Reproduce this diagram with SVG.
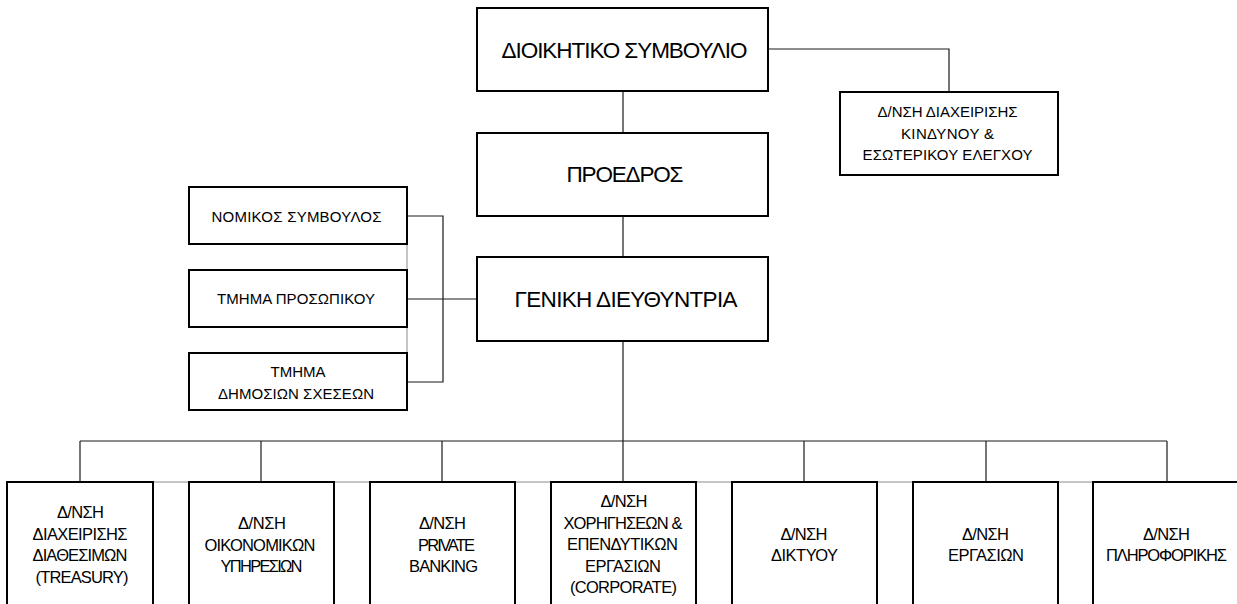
<svg xmlns="http://www.w3.org/2000/svg" width="1237" height="604" viewBox="0 0 1237 604">
<style>
.box{fill:#fff;stroke:#000;stroke-width:2}
.con{fill:none;stroke:#1a1a1a;stroke-width:1.2}
.ghost{fill:none;stroke:#8c8c8c;stroke-width:1}
text{font-family:"Liberation Sans",Arial,sans-serif;fill:#000;text-anchor:middle}
.big{font-size:22.5px}
.sm{font-size:15px}
.bt{font-size:16.5px}
</style>
<rect width="1237" height="604" fill="#fff"/>
<g id="ghost-lines">
<line class="ghost" x1="407" y1="187" x2="407" y2="410"/>
<line class="ghost" x1="7" y1="482" x2="1237" y2="482"/>
</g>
<g id="connectors">
<line class="con" x1="623" y1="91" x2="623" y2="133"/>
<polyline class="con" points="768,49 949,49 949,92"/>
<line class="con" x1="623" y1="216" x2="623" y2="257"/>
<polyline class="con" points="407,216 443,216 443,382 407,382"/>
<line class="con" x1="407" y1="299" x2="477" y2="299"/>
<line class="con" x1="623" y1="341" x2="623" y2="482"/>
<line class="con" x1="80" y1="441" x2="1167" y2="441"/>
<line class="con" x1="80" y1="441" x2="80" y2="482"/>
<line class="con" x1="261" y1="441" x2="261" y2="482"/>
<line class="con" x1="442" y1="441" x2="442" y2="482"/>
<line class="con" x1="804" y1="441" x2="804" y2="482"/>
<line class="con" x1="986" y1="441" x2="986" y2="482"/>
<line class="con" x1="1167" y1="441" x2="1167" y2="482"/>
</g>
<g id="board">
<rect class="box" x="477" y="8" width="291" height="83"/>
<text class="big" x="624.5" y="57.5" textLength="246" lengthAdjust="spacing">ΔΙΟΙΚΗΤΙΚΟ ΣΥΜΒΟΥΛΙΟ</text>
</g>
<g id="risk">
<rect class="box" x="840" y="92" width="218" height="83"/>
<text class="sm" x="947.5" y="117" textLength="140" lengthAdjust="spacing">Δ/ΝΣΗ ΔΙΑΧΕΙΡΙΣΗΣ</text>
<text class="sm" x="947.5" y="138.5" textLength="93" lengthAdjust="spacing">ΚΙΝΔΥΝΟΥ &amp;</text>
<text class="sm" x="947.5" y="160" textLength="170" lengthAdjust="spacing">ΕΣΩΤΕΡΙΚΟΥ ΕΛΕΓΧΟΥ</text>
</g>
<g id="president">
<rect class="box" x="477" y="133" width="291" height="83"/>
<text class="big" x="625" y="181.5" textLength="117" lengthAdjust="spacing">ΠΡΟΕΔΡΟΣ</text>
</g>
<g id="general">
<rect class="box" x="477" y="257" width="291" height="84"/>
<text class="big" x="626" y="307" textLength="223" lengthAdjust="spacing">ΓΕΝΙΚΗ ΔΙΕΥΘΥΝΤΡΙΑ</text>
</g>
<g id="legal">
<rect class="box" x="189" y="187" width="218" height="57"/>
<text class="sm" x="296.5" y="221.5" textLength="170" lengthAdjust="spacing">ΝΟΜΙΚΟΣ ΣΥΜΒΟΥΛΟΣ</text>
</g>
<g id="personnel">
<rect class="box" x="189" y="270" width="218" height="57"/>
<text class="sm" x="296" y="304" textLength="158" lengthAdjust="spacing">ΤΜΗΜΑ ΠΡΟΣΩΠΙΚΟΥ</text>
</g>
<g id="pr">
<rect class="box" x="189" y="353" width="218" height="57"/>
<text class="sm" x="298" y="377" textLength="55" lengthAdjust="spacing">ΤΜΗΜΑ</text>
<text class="sm" x="296" y="399" textLength="156" lengthAdjust="spacing">ΔΗΜΟΣΙΩΝ ΣΧΕΣΕΩΝ</text>
</g>
<g id="treasury">
<rect class="box" x="7" y="482" width="146" height="140"/>
<text class="bt" x="80.5" y="518" textLength="47" lengthAdjust="spacing">Δ/ΝΣΗ</text>
<text class="bt" x="80" y="539.5" textLength="95" lengthAdjust="spacing">ΔΙΑΧΕΙΡΙΣΗΣ</text>
<text class="bt" x="80" y="561" textLength="95" lengthAdjust="spacing">ΔΙΑΘΕΣΙΜΩΝ</text>
<text class="bt" x="82" y="582.5" textLength="93" lengthAdjust="spacing">(TREASURY)</text>
</g>
<g id="finance">
<rect class="box" x="189" y="482" width="145" height="140"/>
<text class="bt" x="262" y="529" textLength="48" lengthAdjust="spacing">Δ/ΝΣΗ</text>
<text class="bt" x="260" y="550.5" textLength="111" lengthAdjust="spacing">ΟΙΚΟΝΟΜΙΚΩΝ</text>
<text class="bt" x="261.5" y="572" textLength="82" lengthAdjust="spacing">ΥΠΗΡΕΣΙΩΝ</text>
</g>
<g id="private">
<rect class="box" x="370" y="482" width="145" height="140"/>
<text class="bt" x="442.5" y="529" textLength="47" lengthAdjust="spacing">Δ/ΝΣΗ</text>
<text class="bt" x="446.5" y="550.5" textLength="57" lengthAdjust="spacing">PRIVATE</text>
<text class="bt" x="443.5" y="572" textLength="69" lengthAdjust="spacing">BANKING</text>
</g>
<g id="corporate">
<rect class="box" x="551" y="482" width="145" height="140"/>
<text class="bt" x="624" y="507" textLength="47" lengthAdjust="spacing">Δ/ΝΣΗ</text>
<text class="bt" x="623" y="528.5" textLength="119" lengthAdjust="spacing">ΧΟΡΗΓΗΣΕΩΝ &amp;</text>
<text class="bt" x="622.5" y="550" textLength="111" lengthAdjust="spacing">ΕΠΕΝΔΥΤΙΚΩΝ</text>
<text class="bt" x="623" y="571.5" textLength="76" lengthAdjust="spacing">ΕΡΓΑΣΙΩΝ</text>
<text class="bt" x="623.5" y="593" textLength="107" lengthAdjust="spacing">(CORPORATE)</text>
</g>
<g id="network">
<rect class="box" x="732" y="482" width="145" height="140"/>
<text class="bt" x="804" y="539.5" textLength="47" lengthAdjust="spacing">Δ/ΝΣΗ</text>
<text class="bt" x="804.5" y="561" textLength="67" lengthAdjust="spacing">ΔΙΚΤΥΟΥ</text>
</g>
<g id="operations">
<rect class="box" x="913" y="482" width="145" height="140"/>
<text class="bt" x="985.5" y="539.5" textLength="47" lengthAdjust="spacing">Δ/ΝΣΗ</text>
<text class="bt" x="986" y="561" textLength="76" lengthAdjust="spacing">ΕΡΓΑΣΙΩΝ</text>
</g>
<g id="it">
<rect class="box" x="1093" y="482" width="147" height="140"/>
<text class="bt" x="1166.5" y="539.5" textLength="47" lengthAdjust="spacing">Δ/ΝΣΗ</text>
<text class="bt" x="1166.5" y="561" textLength="121" lengthAdjust="spacing">ΠΛΗΡΟΦΟΡΙΚΗΣ</text>
</g>
</svg>
